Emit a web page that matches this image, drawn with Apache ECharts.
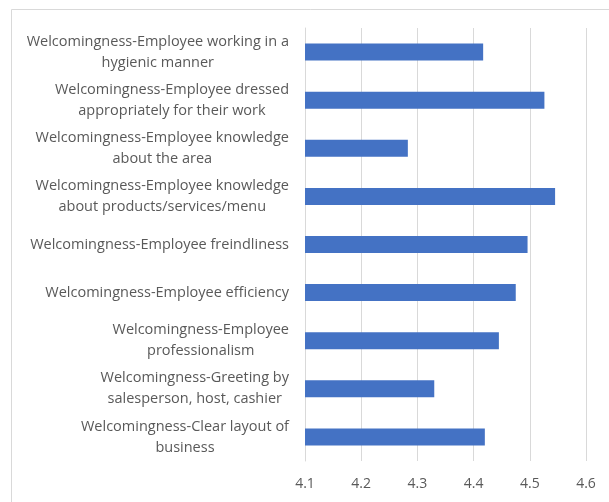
<!DOCTYPE html>
<html>
<head>
<meta charset="utf-8">
<style>
  html, body { margin: 0; padding: 0; background: #fff; }
  #chart { width: 609px; height: 502px; }
</style>
<script src="https://cdn.jsdelivr.net/npm/echarts@6/dist/echarts.min.js"></script>
</head>
<body>
<div id="chart"></div>
<script>
// Category labels (top to bottom), split into display lines
const categories = [
  ['Welcomingness-Employee working in a', 'hygienic manner'],
  ['Welcomingness-Employee dressed', 'appropriately for their work'],
  ['Welcomingness-Employee knowledge', 'about the area'],
  ['Welcomingness-Employee knowledge', 'about products/services/menu'],
  ['Welcomingness-Employee freindliness'],
  ['Welcomingness-Employee efficiency'],
  ['Welcomingness-Employee', 'professionalism'],
  ['Welcomingness-Greeting by', 'salesperson, host, cashier'],
  ['Welcomingness-Clear layout of', 'business']
];

// Mean scores per item
const scores = [4.417, 4.526, 4.283, 4.545, 4.496, 4.475, 4.445, 4.330, 4.420];

// Value axis range
const axisMin = 4.1;
const axisMax = 4.6;
const axisStep = 0.1;

const chart = echarts.init(document.getElementById('chart'), null, { renderer: 'canvas' });

const labelFont = '"Open Sans", Lato, sans-serif';
const textColor = '#595959';
const gridColor = '#d9d9d9';

chart.setOption({
  animation: false,
  backgroundColor: '#ffffff',
  graphic: [{
    type: 'rect',
    left: 9, top: 7,
    shape: { width: 620, height: 520 },
    style: { fill: 'none', stroke: gridColor, lineWidth: 1 },
    silent: true
  }],
  grid: { left: 305, right: 23, top: 28, bottom: 41, containLabel: false },
  xAxis: {
    type: 'value',
    min: axisMin,
    max: axisMax,
    interval: axisStep,
    axisLine: { show: false },
    axisTick: { show: false },
    splitLine: { show: true, lineStyle: { color: gridColor, width: 1 } },
    axisLabel: {
      color: textColor,
      fontFamily: labelFont,
      fontSize: 14,
      margin: 16,
      formatter: v => v.toFixed(1)
    }
  },
  yAxis: {
    type: 'category',
    inverse: true,
    data: categories.map(c => c.join('\n')),
    axisLine: { show: true, lineStyle: { color: gridColor, width: 1 } },
    axisTick: { show: false },
    axisLabel: {
      margin: 16,
      align: 'right',
      formatter: v => v.split('\n').map(line => '{c|' + line + '}').join('\n'),
      rich: {
        c: {
          align: 'center',
          color: textColor,
          fontFamily: labelFont,
          fontSize: 14.5,
          lineHeight: 21
        }
      }
    }
  },
  series: [{
    type: 'bar',
    data: scores,
    barWidth: 17,
    itemStyle: { color: '#4472C4' },
    silent: true
  }]
});
</script>
</body>
</html>
